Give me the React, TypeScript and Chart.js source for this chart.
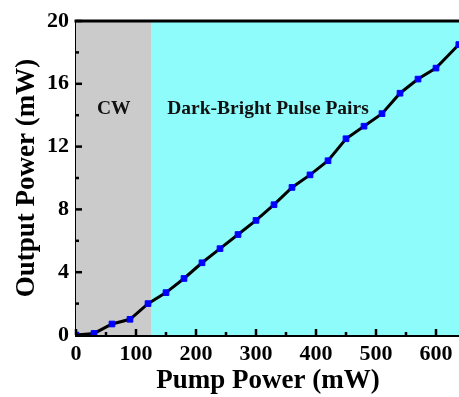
import React, { useEffect, useRef } from "react";
import { Chart, registerables } from "chart.js";

Chart.register(...registerables);

const pumpPower = [0, 30, 60, 90, 120, 150, 180, 210, 240, 270, 300, 330, 360, 390, 420, 450, 480, 510, 540, 570, 600, 638];
const outputPower = [0, 0.1, 0.7, 1.0, 2.0, 2.7, 3.6, 4.6, 5.5, 6.4, 7.3, 8.3, 9.4, 10.2, 11.1, 12.5, 13.3, 14.1, 15.4, 16.3, 17.0, 18.5];
const regionNames = ["CW", "Dark-Bright Pulse Pairs"];
const regionStart = [0, 125];
const regionEnd = [125, 640];
const regionColors = ["#cbcbcb", "#8ffcfc"];
const regionLabelX = [63, 320];
const regionLabelY = [14.4, 14.4];
const xTitle = "Pump Power (mW)";
const yTitle = "Output Power (mW)";

const serif = "'Liberation Serif', 'Times New Roman', serif";

const decorPlugin = {
  id: "decor",
  beforeDatasetsDraw(chart: any) {
    const { ctx, chartArea, scales } = chart;
    const xs = scales.x;
    ctx.save();
    for (let i = 0; i < regionStart.length; i++) {
      const x0 = xs.getPixelForValue(regionStart[i]);
      const x1 = xs.getPixelForValue(regionEnd[i]);
      ctx.fillStyle = regionColors[i];
      ctx.fillRect(x0, chartArea.top, x1 - x0, chartArea.bottom - chartArea.top);
    }
    ctx.restore();
  },
  afterDraw(chart: any) {
    const { ctx, chartArea, scales } = chart;
    const xs = scales.x;
    const ys = scales.y;
    ctx.save();
    ctx.strokeStyle = "#000";
    ctx.lineWidth = 3;
    ctx.beginPath();
    ctx.moveTo(chartArea.left - 1.5, chartArea.top);
    ctx.lineTo(chartArea.right, chartArea.top);
    ctx.stroke();
    ctx.lineWidth = 2.5;
    for (let v = 0; v <= 640; v += 50) {
      const px = xs.getPixelForValue(v);
      const len = v % 100 === 0 ? 6 : 3;
      ctx.beginPath();
      ctx.moveTo(px, chartArea.bottom);
      ctx.lineTo(px, chartArea.bottom - len);
      ctx.stroke();
    }
    for (let v = 0; v <= 20; v += 2) {
      const py = ys.getPixelForValue(v);
      const len = v % 4 === 0 ? 6 : 3;
      ctx.beginPath();
      ctx.moveTo(chartArea.left, py);
      ctx.lineTo(chartArea.left + len, py);
      ctx.stroke();
    }
    ctx.fillStyle = "#111";
    ctx.font = `bold 19.5px ${serif}`;
    ctx.textAlign = "center";
    ctx.textBaseline = "middle";
    for (let i = 0; i < regionNames.length; i++) {
      ctx.fillText(regionNames[i], xs.getPixelForValue(regionLabelX[i]), ys.getPixelForValue(regionLabelY[i]));
    }
    ctx.restore();
  },
};

export default function App() {
  const ref = useRef<HTMLCanvasElement>(null);
  useEffect(() => {
    const chart = new Chart(ref.current!, {
      type: "line",
      data: {
        datasets: [
          {
            data: pumpPower.map((x, i) => ({ x, y: outputPower[i] })),
            borderColor: "#000",
            borderWidth: 3,
            pointStyle: "rect",
            pointRadius: 4,
            pointBackgroundColor: "#0000ff",
            pointBorderColor: "#0000ff",
            pointBorderWidth: 1,
            tension: 0,
          },
        ],
      },
      options: {
        responsive: false,
        animation: false,
        layout: { padding: { top: 21, right: 0, left: 0, bottom: 0 } },
        plugins: { legend: { display: false }, tooltip: { enabled: false } },
        scales: {
          x: {
            type: "linear",
            min: 0,
            max: 640,
            afterFit: (s: any) => {
              s.height = 62;
            },
            afterBuildTicks: (s: any) => {
              s.ticks = [0, 100, 200, 300, 400, 500, 600].map((v) => ({ value: v }));
            },
            grid: { display: false, drawTicks: false },
            border: { display: true, color: "#000", width: 3 },
            ticks: { color: "#000", font: { family: serif, size: 22, weight: "bold" }, padding: 6, maxRotation: 0 },
            title: { display: true, text: xTitle, color: "#000", font: { family: serif, size: 27, weight: "bold" }, padding: { top: 0, bottom: 0 } },
          },
          y: {
            min: 0,
            max: 20,
            afterFit: (s: any) => {
              s.width = 76;
            },
            grid: { display: false, drawTicks: false },
            border: { display: true, color: "#000", width: 3 },
            ticks: { stepSize: 4, color: "#000", font: { family: serif, size: 22, weight: "bold" }, padding: 7 },
            title: { display: true, text: yTitle, color: "#000", font: { family: serif, size: 27, weight: "bold" }, padding: { top: 11, bottom: 0 } },
          },
        },
      },
      plugins: [decorPlugin],
    } as any);
    return () => chart.destroy();
  }, []);
  return (
    <div style={{ position: "absolute", left: 0, top: 0, width: 459, height: 397, overflow: "hidden", background: "#fff" }}>
      <canvas ref={ref} width={465} height={397} style={{ display: "block" }} />
    </div>
  );
}
